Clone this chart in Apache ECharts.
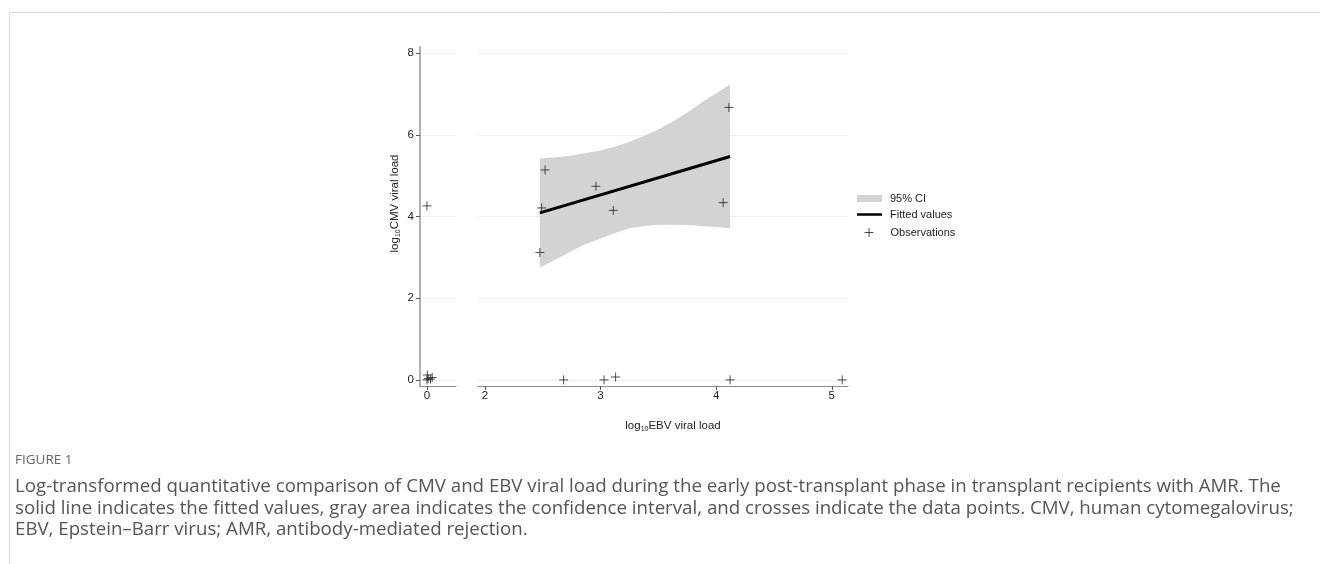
<!DOCTYPE html>
<html>
<head>
<meta charset="utf-8">
<script src="https://cdn.jsdelivr.net/npm/echarts@6/dist/echarts.min.js"></script>
<style>
html,body{margin:0;padding:0;background:#fff;}
#chart{width:1320px;height:564px;}
</style>
</head>
<body>
<div id="chart"></div>
<script>
// ---- data ----
const yTicks = [0, 2, 4, 6, 8];
const xTicksLeft = [0];
const xTicksMain = [2, 3, 4, 5];
// observations with EBV = 0 (left break panel)
const obsLeftX = [0, 0.003, 0.01, 0.03, 0.045, 0.0];
const obsLeftY = [4.26, 0.12, 0.03, 0.02, 0.06, 0.0];
// observations with EBV > 0 (main panel)
const obsMainX = [2.52, 2.49, 2.475, 2.96, 3.11, 4.06, 4.11, 2.68, 3.03, 3.13, 4.12, 5.09];
const obsMainY = [5.14, 4.21, 3.12, 4.74, 4.15, 4.34, 6.67, 0.0, 0.0, 0.07, 0.0, 0.0];
// fitted values
const fitX = [2.475, 4.12];
const fitY = [4.09, 5.47];
// 95% CI band
const bandX     = [2.475, 2.6, 2.735, 2.85, 2.99, 3.12, 3.25, 3.38, 3.51, 3.64, 3.77, 3.9, 4.0, 4.12];
const bandUpper = [5.42, 5.45, 5.48, 5.54, 5.61, 5.71, 5.83, 5.98, 6.15, 6.35, 6.58, 6.84, 7.02, 7.23];
const bandLower = [2.75, 2.93, 3.13, 3.30, 3.45, 3.59, 3.71, 3.77, 3.80, 3.80, 3.79, 3.76, 3.74, 3.71];
const captionTitle = 'FIGURE 1';
const captionLines = [
  'Log-transformed quantitative comparison of CMV and EBV viral load during the early post-transplant phase in transplant recipients with AMR. The',
  'solid line indicates the fitted values, gray area indicates the confidence interval, and crosses indicate the data points. CMV, human cytomegalovirus;',
  'EBV, Epstein\u2013Barr virus; AMR, antibody-mediated rejection.'
];

// ---- chart ----
const zip = (xs, ys) => xs.map((x, i) => [x, ys[i]]);
const bandData = bandX.map((x, i) => [x, bandLower[i], bandUpper[i]]);
const plus = 'path://M0,4.5L9,4.5M4.5,0L4.5,9';
const FONT = 'Liberation Sans, Arial, Helvetica, sans-serif';
const CAPFONT = '"Open Sans", sans-serif';
const yMin = -0.15, yMax = 8.15;

const chart = echarts.init(document.getElementById('chart'), null, {renderer: 'canvas'});

const commonY = {
  type: 'value', min: yMin, max: yMax,
  splitLine: {show: true, lineStyle: {color: '#eeeeee', width: 1}}
};
const subRich = {
  a: {fontSize: 11.5, color: '#222', fontFamily: FONT, lineHeight: 14},
  s: {fontSize: 7, color: '#222', fontFamily: FONT, padding: [6, 0, 0, 0], lineHeight: 14}
};

const option = {
  animation: false,
  backgroundColor: '#ffffff',
  textStyle: {fontFamily: FONT},
  grid: [
    {left: 420, top: 47, width: 36, height: 339},
    {left: 478, top: 47, width: 370, height: 339}
  ],
  xAxis: [
    {
      gridIndex: 0, type: 'value', min: -0.06, max: 0.25,
      axisLine: {show: true, onZero: false, lineStyle: {color: '#8a8a8a', width: 1}},
      axisTick: {show: true, customValues: xTicksLeft, length: 4, lineStyle: {color: '#555'}},
      axisLabel: {show: true, customValues: xTicksLeft, color: '#222', fontSize: 11.5, margin: 4, fontFamily: FONT},
      splitLine: {show: false}
    },
    {
      gridIndex: 1, type: 'value', min: 1.94, max: 5.14,
      axisLine: {show: true, onZero: false, lineStyle: {color: '#8a8a8a', width: 1}},
      axisTick: {show: true, customValues: xTicksMain, length: 4, lineStyle: {color: '#555'}},
      axisLabel: {show: true, customValues: xTicksMain, color: '#222', fontSize: 11.5, margin: 4, fontFamily: FONT},
      splitLine: {show: false},
      name: '{a|log}{s|10}{a|EBV viral load}',
      nameLocation: 'middle', nameGap: 33,
      nameTextStyle: {padding: [0, 0, 0, 20], rich: subRich}
    }
  ],
  yAxis: [
    Object.assign({}, commonY, {
      gridIndex: 0,
      axisLine: {show: true, onZero: false, lineStyle: {color: '#b0b0b0', width: 2}},
      axisTick: {show: true, customValues: yTicks, length: 4, lineStyle: {color: '#555'}},
      axisLabel: {show: true, customValues: yTicks, color: '#222', fontSize: 11.5, margin: 6, fontFamily: FONT},
      name: '{a|log}{s|10}{a|CMV viral load}',
      nameLocation: 'middle', nameGap: 18, nameRotate: 90,
      nameTextStyle: {padding: [0, 0, 0, 26], rich: subRich}
    }),
    Object.assign({}, commonY, {
      gridIndex: 1,
      axisLine: {show: false, onZero: false},
      axisTick: {show: false, customValues: yTicks},
      axisLabel: {show: false, customValues: yTicks}
    })
  ],
  legend: [
    {
      left: 857, top: 193, padding: 0, selectedMode: false,
      itemWidth: 25, itemHeight: 7, itemGap: 0,
      textStyle: {fontSize: 11, color: '#222', fontFamily: FONT, padding: [0, 0, 0, 3]},
      data: [{name: '95% CI', icon: 'rect', itemStyle: {color: '#d3d3d3'}}]
    },
    {
      left: 857, top: 209, padding: 0, selectedMode: false,
      itemWidth: 25, itemHeight: 2.5, itemGap: 0,
      textStyle: {fontSize: 11, color: '#222', fontFamily: FONT, padding: [0, 0, 0, 3]},
      data: [{name: 'Fitted values', icon: 'rect', itemStyle: {color: '#000'}}]
    },
    {
      left: 864, top: 227, padding: 0, selectedMode: false,
      itemWidth: 9, itemHeight: 9, itemGap: 0,
      textStyle: {fontSize: 11, color: '#222', fontFamily: FONT, padding: [0, 0, 0, 12]},
      data: [{name: 'Observations', icon: plus, itemStyle: {color: 'rgba(0,0,0,0)', borderColor: '#222', borderWidth: 1}}]
    }
  ],
  series: [
    {
      name: '95% CI', type: 'custom', xAxisIndex: 1, yAxisIndex: 1,
      data: bandData, silent: true, z: 1,
      itemStyle: {color: '#d3d3d3'},
      renderItem: function (params, api) {
        if (params.dataIndex !== 0) return null;
        const upper = bandData.map(d => api.coord([d[0], d[2]]));
        const lower = bandData.map(d => api.coord([d[0], d[1]])).reverse();
        return {
          type: 'polygon',
          shape: {points: upper.concat(lower)},
          style: {fill: '#d3d3d3', stroke: null}
        };
      },
      encode: {x: 0, y: [1, 2]}
    },
    {
      name: 'Fitted values', type: 'line', xAxisIndex: 1, yAxisIndex: 1,
      data: zip(fitX, fitY), symbol: 'none', z: 3,
      lineStyle: {color: '#000', width: 3}, itemStyle: {color: '#000'}
    },
    {
      name: 'Observations', type: 'scatter', xAxisIndex: 1, yAxisIndex: 1,
      data: zip(obsMainX, obsMainY), symbol: plus, symbolSize: 9, z: 4,
      itemStyle: {color: 'rgba(0,0,0,0)', borderColor: '#222', borderWidth: 1}
    },
    {
      name: 'Observations', type: 'scatter', xAxisIndex: 0, yAxisIndex: 0,
      data: zip(obsLeftX, obsLeftY), symbol: plus, symbolSize: 9, z: 4,
      itemStyle: {color: 'rgba(0,0,0,0)', borderColor: '#222', borderWidth: 1}
    }
  ],
  graphic: [
    {type: 'line', shape: {x1: 9, y1: 12.5, x2: 1320, y2: 12.5}, style: {stroke: '#dadada', lineWidth: 1}, silent: true},
    {type: 'line', shape: {x1: 9.5, y1: 12.5, x2: 9.5, y2: 564}, style: {stroke: '#dadada', lineWidth: 1}, silent: true},
    {type: 'text', left: 15, top: 453, style: {text: captionTitle, font: '13.5px ' + CAPFONT, fill: '#666'}},
    {type: 'text', left: 15, top: 477, style: {text: captionLines[0], font: '18.7px ' + CAPFONT, fill: '#555'}},
    {type: 'text', left: 15, top: 499, style: {text: captionLines[1], font: '18.7px ' + CAPFONT, fill: '#555'}},
    {type: 'text', left: 15, top: 520, style: {text: captionLines[2], font: '18.7px ' + CAPFONT, fill: '#555'}}
  ]
};
chart.setOption(option);
</script>
</body>
</html>
